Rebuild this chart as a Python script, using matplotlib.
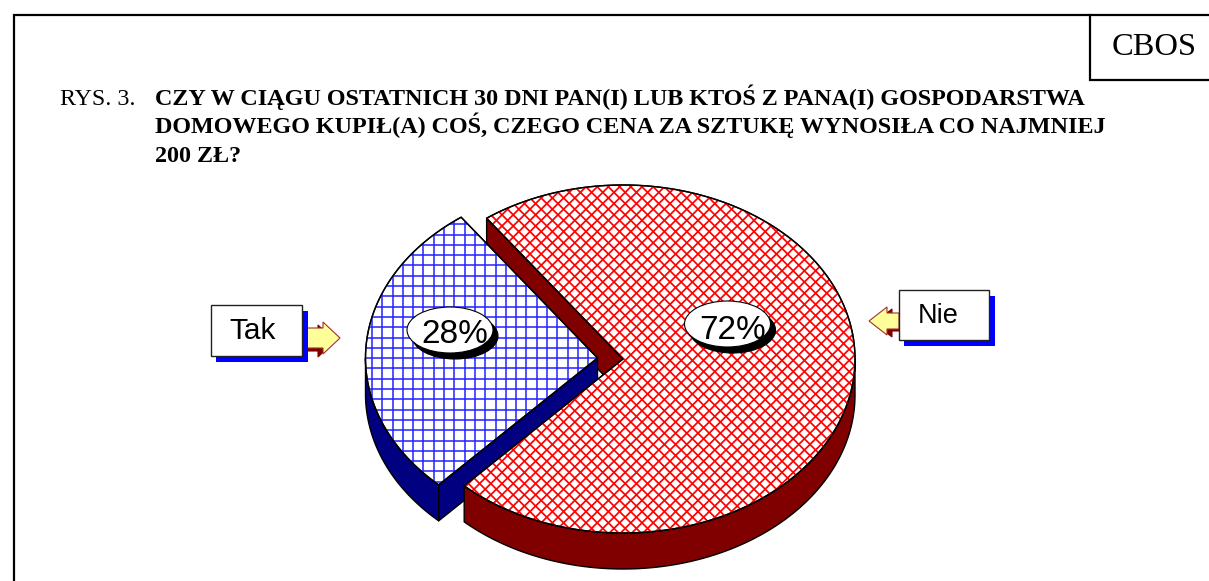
import numpy as np
import matplotlib
matplotlib.use('Agg')
import matplotlib.pyplot as plt
from matplotlib.patches import Polygon, Ellipse, Rectangle
from matplotlib.collections import LineCollection

plt.rcParams['font.family'] = ['Liberation Serif', 'DejaVu Sans']

labels = ['Tak', 'Nie']
values = [28, 72]
pct_labels = ['28%', '72%']
title_prefix = 'RYS. 3.'
title_lines = ['CZY W CIĄGU OSTATNICH 30 DNI PAN(I) LUB KTOŚ Z PANA(I) GOSPODARSTWA',
               'DOMOWEGO KUPIŁ(A) COŚ, CZEGO CENA ZA SZTUKĘ WYNOSIŁA CO NAJMNIEJ',
               '200 ZŁ?']

W, H = 1209, 581
fig = plt.figure(figsize=(W / 100, H / 100), dpi=100)
ax = fig.add_axes([0, 0, 1, 1])
ax.set_xlim(0, W)
ax.set_ylim(H, 0)
ax.axis('off')

# pie geometry
RX, RY = 232, 174
DEPTH = 36
START = 126.0
BLUE_C = (597.5, 358)
RED_C = (623, 359)
NAVY = '#000080'
MAROON = '#800000'

sweep = values[0] / sum(values) * 360
a_mid = START + sweep
a_end = START + 360


def arc(c, t0, t1, n=200):
    t = np.radians(np.linspace(t0, t1, n))
    return np.column_stack([c[0] + RX * np.cos(t), c[1] - RY * np.sin(t)])


def wall(pts):
    low = pts[::-1] + [0, DEPTH]
    return np.vstack([pts, low])


def poly(pts, fc, z):
    p = Polygon(pts, closed=True, fc=fc, ec='black', lw=1.0, zorder=z, joinstyle='round')
    ax.add_patch(p)
    return p


# red inner wall, then the blue slice on top of it
red_first = arc(RED_C, a_end, a_end, 1)
poly(wall(np.vstack([red_first, [RED_C]])), MAROON, 1)

blue_arc = arc(BLUE_C, START, a_mid)
poly(wall(np.vstack([[BLUE_C], blue_arc[-1:]])), NAVY, 2)
poly(wall(arc(BLUE_C, 180, a_mid)), NAVY, 2)
blue_top = poly(np.vstack([[BLUE_C], blue_arc]), 'white', 3)

gx = np.arange(350, 620, 10.3) + 1.3
gy = np.arange(193, 500, 10.3) + 0.3
segs = [[(x, 180), (x, 540)] for x in gx] + [[(340, y), (620, y)] for y in gy]
lc = LineCollection(segs, colors='#2222ff', linewidths=1.1, zorder=3.1)
ax.add_collection(lc)
lc.set_clip_path(blue_top)
blue_edge = Polygon(np.vstack([[BLUE_C], blue_arc]), closed=True, fc='none', ec='black', lw=1.0, zorder=3.2)
ax.add_patch(blue_edge)

# red slice
poly(wall(arc(RED_C, a_mid, 360)), MAROON, 4)
red_pts = np.vstack([[RED_C], arc(RED_C, a_mid, a_end, 400)])
red_top = poly(red_pts, 'white', 5)
step = 11.2
segs = []
for c in np.arange(0, 1500, step):
    segs.append([(c - 600, 600), (c, 0)])
    segs.append([(c - 900, 0), (c - 300, 600)])
lc = LineCollection(segs, colors='#ff0000', linewidths=1.25, zorder=5.1)
ax.add_collection(lc)
lc.set_clip_path(red_top)
ax.add_patch(Polygon(red_pts, closed=True, fc='none', ec='black', lw=1.0, zorder=5.2))

# percent bubbles
for txt, cx, cy, tx, base in zip(pct_labels, [450, 727.5], [330, 324], [454.5, 732.5], [343, 339]):
    ax.add_patch(Ellipse((cx + 5, cy + 6), 86, 46, fc='black', ec='black', lw=0.8, zorder=6))
    ax.add_patch(Ellipse((cx, cy), 86, 46, fc='white', ec='black', lw=0.8, zorder=6.1))
    ax.text(tx, base, txt, family='Liberation Sans', fontsize=24, ha='center', va='baseline', zorder=6.2)


def callout(box, txt, tx, base, tip, shaft, head_x, head_y, off, fs):
    x0, y0, x1, y1 = box
    anchor = x1 if tip > x1 else x0
    yc = (shaft[0] + shaft[1]) / 2
    pts = [(anchor, shaft[0]), (head_x, shaft[0]), (head_x, head_y[0]), (tip, yc),
           (head_x, head_y[1]), (head_x, shaft[1]), (anchor, shaft[1])]
    pts = np.array(pts, dtype=float)
    ax.add_patch(Polygon(pts + off, closed=True, fc=MAROON, ec=MAROON, lw=0.8, zorder=7))
    ax.add_patch(Polygon(pts, closed=True, fc='#ffff99', ec='#a03030', lw=0.8, zorder=7.1))
    ax.add_patch(Rectangle((x0 + 5, y0 + 6), x1 - x0 + 0.5, y1 - y0, fc='#0000ff', ec='none', zorder=7.5))
    ax.add_patch(Rectangle((x0, y0), x1 - x0, y1 - y0, fc='white', ec='#222222', lw=1.0, zorder=8))
    ax.text(tx, base, txt, family='Liberation Sans', fontsize=fs, ha='center', va='baseline', zorder=9)


callout((211, 305, 302, 356), labels[0], 253, 339, 340, (328, 348), 323, (322, 354), (-5, 3), 21.5)
callout((899, 290, 989, 340), labels[1], 938, 323, 869, (313, 329), 887, (307, 335), (5, 2), 19.5)

# frame and CBOS box
ax.plot([14, 14, W], [H, 15, 15], color='black', lw=1.6, solid_joinstyle='miter', zorder=10)
ax.plot([W, 1090, 1090], [80, 80, 15], color='black', lw=1.6, solid_joinstyle='miter', zorder=10)
ax.text(1154.5, 55, 'CBOS', fontsize=23.4, ha='center', va='baseline')

ax.text(60, 105, title_prefix, fontsize=17.3, ha='left', va='baseline')
for line, y in zip(title_lines, [105, 133, 162]):
    ax.text(155, y, line, fontsize=17.4, fontweight='bold', ha='left', va='baseline')

fig.savefig('out.png', dpi=100)
